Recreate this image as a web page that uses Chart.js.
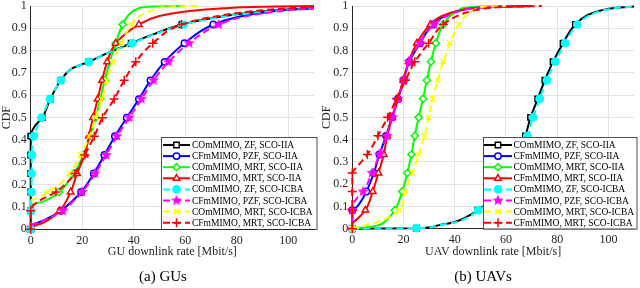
<!DOCTYPE html>
<html>
<head>
<meta charset="utf-8">
<script src="https://cdn.jsdelivr.net/npm/chart.js@4.4.0/dist/chart.umd.min.js"></script>
<style>
  body { margin: 0; background: #fff; }
  .panel { position: absolute; top: 0; width: 320px; height: 288px; }
  .caption { position: absolute; left: 0; width: 326px; top: 268px; text-align: center;
             font: 15px 'Liberation Serif', 'Times New Roman', serif; color: #000; }
</style>
</head>
<body>
<div class="panel" style="left:0"><canvas id="chart-gu" width="320" height="288"></canvas><div class="caption">(a) GUs</div></div>
<div class="panel" style="left:320px"><canvas id="chart-uav" width="320" height="288"></canvas><div class="caption">(b) UAVs</div></div>
<script>
// ===== data (x = rate in Mbit/s, y = CDF) =====
const seriesNames = [
  'COmMIMO, ZF, SCO-IIA', 'CFmMIMO, PZF, SCO-IIA', 'COmMIMO, MRT, SCO-IIA', 'CFmMIMO, MRT, SCO-IIA',
  'COmMIMO, ZF, SCO-ICBA', 'CFmMIMO, PZF, SCO-ICBA', 'COmMIMO, MRT, SCO-ICBA', 'CFmMIMO, MRT, SCO-ICBA'
];
const xTicks = [0, 20, 40, 60, 80, 100];
const yTicks = [0, 0.1, 0.2, 0.3, 0.4, 0.5, 0.6, 0.7, 0.8, 0.9, 1];

// (a) GUs
const guCoZfIia = [[0,0],[0,0.083],[0,0.167],[0,0.25],[0,0.333],[0,0.417],[1.5,0.46],[4.5,0.5],[7.6,0.583],[11.7,0.667],[16,0.72],[22.5,0.75],[30,0.79],[39,0.833],[48,0.875],[58.7,0.917],[70,0.945],[85,0.97],[100,0.984],[110,0.99]];
const guCfPzfIia = [[0,0.018],[5,0.04],[11.7,0.083],[16,0.125],[19.6,0.167],[24.5,0.25],[28.6,0.333],[32.7,0.417],[37.3,0.5],[42,0.583],[46.5,0.667],[52,0.75],[59.7,0.833],[70.9,0.917],[80,0.95],[90,0.97],[100,0.983],[110,0.99]];
const guCoMrtIia = [[0,0.11],[5,0.125],[11,0.167],[16.8,0.25],[20.5,0.333],[23,0.417],[25.2,0.5],[27,0.583],[28.7,0.667],[30.7,0.75],[33,0.833],[35.7,0.917],[38,0.96],[42,0.99],[48,0.998],[60,1.0]];
const guCfMrtIia = [[0,0],[0.5,0.01],[5,0.03],[11.2,0.083],[15.5,0.167],[18,0.25],[20.9,0.333],[22.6,0.417],[24.2,0.5],[26,0.583],[27.7,0.667],[29.7,0.75],[33,0.833],[42,0.917],[50,0.955],[60,0.975],[75,0.99],[90,0.997],[110,1.0]];
const guCoZfIcba = [[0,0],[0,0.083],[0.3,0.167],[0.4,0.25],[0.5,0.333],[1.2,0.417],[4.2,0.5],[7.5,0.583],[11.7,0.667],[16,0.72],[22.5,0.75],[30,0.79],[39.5,0.833],[48.5,0.875],[59.3,0.917],[70,0.944],[85,0.968],[100,0.982],[110,0.988]];
const guCfPzfIcba = [[0,0.02],[5,0.04],[12.5,0.083],[16.5,0.125],[20,0.167],[25,0.25],[29.3,0.333],[33.5,0.417],[38.3,0.5],[43,0.583],[47.7,0.667],[53.5,0.75],[61.5,0.833],[73,0.917],[82,0.95],[92,0.97],[102,0.983],[110,0.988]];
const guCoMrtIcba = [[0,0.13],[3,0.14],[6.5,0.167],[11,0.2],[15,0.25],[19.5,0.333],[22.8,0.417],[25.2,0.5],[27.6,0.583],[29.6,0.667],[32,0.75],[35.2,0.833],[39.1,0.917],[43,0.96],[48,0.985],[55,0.998],[65,1.0]];
const guCfMrtIcba = [[0,0],[0,0.083],[0.5,0.1],[3,0.125],[9.8,0.167],[15,0.22],[17.2,0.25],[21,0.333],[24.7,0.417],[27.9,0.5],[32.4,0.583],[36.3,0.667],[40.8,0.75],[47.4,0.833],[58.5,0.917],[70,0.95],[85,0.975],[100,0.99],[110,0.995]];

// (b) UAVs
const uavCoZfIia = [[0,0],[25,0.002],[32,0.01],[40,0.03],[45,0.055],[49,0.083],[54,0.125],[57.5,0.167],[61.5,0.25],[64.8,0.333],[67.6,0.417],[69.6,0.5],[72.4,0.583],[75.2,0.667],[78.4,0.75],[82.3,0.833],[87.1,0.917],[92,0.96],[97,0.98],[103,0.992],[110,0.998]];
const uavCfPzfIia = [[0,0],[0,0.083],[1.5,0.095],[3.5,0.125],[5.5,0.167],[8.4,0.25],[10.6,0.333],[13.2,0.417],[15.5,0.5],[17.8,0.583],[20,0.667],[22.3,0.75],[26.4,0.833],[31.5,0.917],[36,0.955],[42,0.98],[50,0.993],[60,0.998],[70,1.0]];
const uavCoMrtIia = [[0,0],[5,0.005],[10,0.015],[13.5,0.04],[16.6,0.083],[19.5,0.167],[21.5,0.25],[23.1,0.333],[24.4,0.417],[25.9,0.5],[27.6,0.583],[29.1,0.667],[30.7,0.75],[32.6,0.833],[35.5,0.917],[38.5,0.96],[42,0.985],[48,0.997],[60,1.0]];
const uavCfMrtIia = [[0,0.025],[2,0.045],[5.1,0.083],[8,0.167],[10.2,0.25],[12.3,0.333],[13.6,0.417],[15.5,0.5],[17.8,0.583],[19.9,0.667],[22,0.75],[25.2,0.833],[30.5,0.917],[35,0.955],[42,0.98],[50,0.993],[60,0.998],[70,1.0]];
const uavCoZfIcba = [[0,0],[25,0.002],[32,0.01],[40,0.028],[45,0.05],[49.2,0.083],[55,0.125],[58.5,0.167],[62.5,0.25],[65.7,0.333],[68.4,0.417],[70.6,0.5],[73.2,0.583],[76,0.667],[79.3,0.75],[83.1,0.833],[87.9,0.917],[93,0.96],[98,0.98],[104,0.992],[110,0.997]];
const uavCfPzfIcba = [[0,0.02],[0,0.083],[0.3,0.11],[2,0.14],[4.2,0.167],[7.7,0.25],[10.6,0.333],[13.6,0.417],[15.7,0.5],[17.9,0.583],[20.2,0.667],[22.1,0.75],[26.4,0.833],[31.9,0.917],[37,0.955],[43,0.98],[50,0.993],[60,0.998]];
const uavCoMrtIcba = [[0,0],[5,0.015],[10,0.03],[14,0.05],[18.3,0.083],[20.6,0.167],[23.4,0.25],[25.9,0.333],[28.2,0.417],[29.8,0.5],[31.4,0.583],[33.3,0.667],[35.5,0.75],[38.1,0.833],[41.6,0.917],[44.5,0.96],[48,0.985],[52,0.997],[60,1.0]];
const uavCfMrtIcba = [[0,0],[0,0.083],[0,0.167],[0,0.25],[2,0.28],[5.9,0.333],[10,0.417],[13.8,0.5],[17.3,0.583],[20.8,0.667],[24.4,0.75],[29.8,0.833],[35.5,0.917],[42,0.96],[50,0.985],[60,0.996],[74,1.0]];

// ===== styles =====
const FONT = "'Liberation Serif', 'Times New Roman', serif";

// filled pentagram for the PZF/ICBA series
function makeStar(color, size) {
  const c = document.createElement('canvas');
  c.width = size; c.height = size;
  const g = c.getContext('2d');
  const ro = size / 2, ri = ro * 0.42;
  g.beginPath();
  for (let k = 0; k < 10; k++) {
    const r = k % 2 ? ri : ro;
    const a = -Math.PI / 2 + k * Math.PI / 5;
    g.lineTo(ro + r * Math.cos(a), ro + r * Math.sin(a));
  }
  g.closePath();
  g.fillStyle = color; g.fill();
  return c;
}
const starImg = makeStar('#ff00ff', 12);

const seriesStyle = [
  { color: '#000000', dash: [],     marker: 'rect',     fill: '#ffffff', r: 3.8 },
  { color: '#0000ff', dash: [],     marker: 'circle',   fill: '#ffffff', r: 3.2 },
  { color: '#00ff00', dash: [],     marker: 'rectRot',  fill: '#ffffff', r: 3.6 },
  { color: '#ff0000', dash: [],     marker: 'triangle', fill: '#ffffff', r: 3.8 },
  { color: '#00ffff', dash: [7, 4], marker: 'circle',   fill: '#00ffff', r: 3.6 },
  { color: '#ff00ff', dash: [7, 4], marker: starImg,    fill: '#ff00ff', r: 5 },
  { color: '#ffff00', dash: [7, 4], marker: 'crossRot', fill: '#ffff00', r: 3.8 },
  { color: '#ff0000', dash: [7, 4], marker: 'cross',    fill: '#ff0000', r: 4.5 }
];

// markers only at CDF levels k/12
function isMarker(y) {
  return y < 0.95 && Math.abs(y * 12 - Math.round(y * 12)) < 0.03;
}

function buildDatasets(seriesList) {
  return seriesList.map((pts, i) => {
    const s = seriesStyle[i];
    return {
      label: seriesNames[i],
      data: pts.map(p => ({ x: p[0], y: p[1] })),
      borderColor: s.color,
      borderWidth: 2,
      borderDash: s.dash,
      cubicInterpolationMode: 'monotone',
      pointStyle: s.marker,
      pointRadius: ctx => (ctx.raw && isMarker(ctx.raw.y)) ? s.r : 0,
      pointBorderColor: s.color,
      pointBackgroundColor: s.fill,
      pointBorderWidth: 1.5,
      markerSize: s.r,
      order: seriesList.length - i,
      clip: { left: 8, top: 4, right: 0, bottom: 8 }
    };
  });
}

// legend box drawn inside the plot (lower right)
const boxLegend = {
  id: 'boxLegend',
  afterDatasetsDraw(chart, args, o) {
    const ctx = chart.ctx;
    ctx.save();
    ctx.fillStyle = '#ffffff';
    ctx.fillRect(o.x, o.y, o.w, o.h);
    ctx.strokeStyle = '#262626';
    ctx.lineWidth = 0.8;
    ctx.strokeRect(o.x + 0.5, o.y + 0.5, o.w, o.h);
    ctx.font = '9.5px ' + FONT;
    ctx.textBaseline = 'middle';
    chart.data.datasets.forEach((ds, i) => {
      const y = o.y + o.rowTop + i * o.rowStep;
      ctx.setLineDash(ds.borderDash);
      ctx.strokeStyle = ds.borderColor;
      ctx.lineWidth = 2;
      ctx.beginPath();
      ctx.moveTo(o.x + o.s0, y);
      ctx.lineTo(o.x + o.s1, y);
      ctx.stroke();
      ctx.setLineDash([]);
      ctx.lineWidth = ds.pointBorderWidth;
      ctx.fillStyle = ds.pointBackgroundColor;
      Chart.helpers.drawPoint(ctx, { pointStyle: ds.pointStyle, rotation: 0, radius: ds.markerSize, borderWidth: ds.pointBorderWidth }, o.x + (o.s0 + o.s1) / 2, y);
      ctx.fillStyle = '#000000';
      ctx.fillText(ds.label, o.x + o.tx, y + 0.5);
    });
    ctx.restore();
  }
};

function makeOptions(cfg) {
  return {
    indexAxis: 'y',
    responsive: false,
    animation: false,
    events: [],
    layout: { padding: { top: cfg.top, right: cfg.right, bottom: cfg.bottom, left: 0 } },
    plugins: { legend: { display: false }, tooltip: { enabled: false }, boxLegend: cfg.legend },
    scales: {
      x: {
        type: 'linear', min: 0, max: 110,
        grid: { color: '#e3e3e3', drawTicks: false },
        border: { display: true, color: '#262626', width: 1 },
        afterBuildTicks: a => { a.ticks = xTicks.map(v => ({ value: v })); },
        ticks: { padding: 4, color: '#262626', maxRotation: 0, font: { family: FONT, size: 12 } },
        title: { display: true, text: cfg.xTitle, color: '#262626', padding: 0, font: { family: FONT, size: 12 } },
        afterFit: a => { a.height = cfg.xAxisH; a.paddingLeft = 0; a.paddingRight = 0; }
      },
      y: {
        type: 'linear', min: 0, max: 1,
        grid: { color: '#e3e3e3', drawTicks: false },
        border: { display: true, color: '#262626', width: 1 },
        afterBuildTicks: a => { a.ticks = yTicks.map(v => ({ value: v })); },
        ticks: { padding: 4, color: '#262626', font: { family: FONT, size: 12 },
                 callback: v => String(Number(v.toFixed(1))) },
        title: { display: true, text: 'CDF', color: '#262626', padding: 0, font: { family: FONT, size: 12 } },
        afterFit: a => { a.width = cfg.yAxisW; a.paddingTop = 0; a.paddingBottom = 0; }
      }
    }
  };
}

new Chart(document.getElementById('chart-gu'), {
  type: 'line',
  data: { datasets: buildDatasets([guCoZfIia, guCfPzfIia, guCoMrtIia, guCfMrtIia, guCoZfIcba, guCfPzfIcba, guCoMrtIcba, guCfMrtIcba]) },
  options: makeOptions({
    top: 5.7, right: 3, bottom: 28.5, yAxisW: 30.7, xAxisH: 30.2,
    xTitle: 'GU downlink rate [Mbit/s]',
    legend: { x: 161, y: 137, w: 155.5, h: 92, s0: 2, s1: 29, tx: 31, rowTop: 8, rowStep: 11.1 }
  }),
  plugins: [boxLegend]
});

new Chart(document.getElementById('chart-uav'), {
  type: 'line',
  data: { datasets: buildDatasets([uavCoZfIia, uavCfPzfIia, uavCoMrtIia, uavCfMrtIia, uavCoZfIcba, uavCfPzfIcba, uavCoMrtIcba, uavCfMrtIcba]) },
  options: makeOptions({
    top: 5, right: 1, bottom: 28.5, yAxisW: 32.3, xAxisH: 30.8,
    xTitle: 'UAV downlink rate [Mbit/s]',
    legend: { x: 163, y: 137, w: 153.5, h: 91.7, s0: 1, s1: 29, tx: 30.5, rowTop: 8, rowStep: 11.1 }
  }),
  plugins: [boxLegend]
});
</script>
</body>
</html>
